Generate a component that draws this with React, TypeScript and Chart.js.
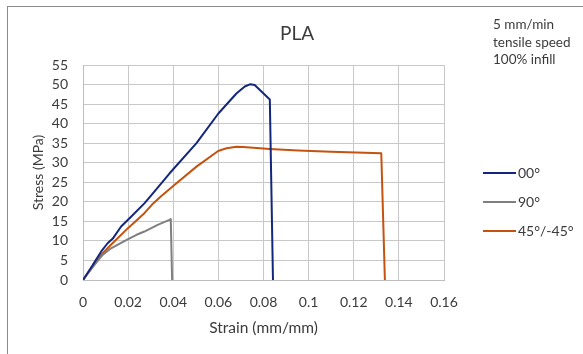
import React, { useEffect, useRef } from "react";
import { Chart, registerables } from "chart.js";

Chart.register(...registerables);

const titleText = "PLA";
const noteLines = ["5 mm/min", "tensile speed", "100% infill"];
const xAxisTitle = "Strain (mm/mm)";
const yAxisTitle = "Stress (MPa)";
const seriesLabels = ["00°", "90°", "45°/-45°"];
const seriesColors = ["#13277c", "#7f7f7f", "#c4530f"];

const strain00 = [0, 0.0043, 0.008, 0.0109, 0.0132, 0.0169, 0.0213, 0.0272, 0.0306, 0.0384, 0.0503, 0.06, 0.068, 0.0717, 0.0742, 0.0761, 0.0784, 0.0828, 0.0842];
const stress00 = [0, 3.8, 7.25, 9.4, 10.6, 13.7, 16.2, 19.6, 21.9, 27.3, 35.0, 42.6, 47.7, 49.5, 50.1, 49.9, 48.6, 46.2, 0];

const strain90 = [0, 0.0021, 0.005, 0.0087, 0.0124, 0.0165, 0.0198, 0.0235, 0.0272, 0.0331, 0.0383, 0.0389, 0.0395];
const stress90 = [0, 1.7, 3.8, 6.4, 8.1, 9.4, 10.4, 11.5, 12.4, 14.1, 15.4, 15.6, 0];

const strain45 = [0, 0.0043, 0.008, 0.0124, 0.0198, 0.0272, 0.0306, 0.0346, 0.0405, 0.0503, 0.0599, 0.0636, 0.068, 0.071, 0.0828, 0.0953, 0.11, 0.1322, 0.1338];
const stress45 = [0, 3.4, 6.4, 9.0, 13.2, 17.1, 19.3, 21.4, 24.3, 29.0, 33.0, 33.7, 34.1, 34.0, 33.5, 33.1, 32.8, 32.4, 0];

const xMin = 0;
const xMax = 0.16;
const xStep = 0.02;
const yMin = 0;
const yMax = 55;
const yStep = 5;

const FONT = "Lato, 'Noto Sans', sans-serif";
const TEXT = "#3b3b3b";

function toPoints(xs: number[], ys: number[]) {
  return xs.map((x, i) => ({ x, y: ys[i] }));
}

export default function App() {
  const ref = useRef<HTMLCanvasElement | null>(null);

  useEffect(() => {
    if (!ref.current) return;
    const textPlugin = {
      id: "texts",
      afterDraw(chart: any) {
        const { ctx, chartArea } = chart;
        ctx.save();
        ctx.fillStyle = TEXT;
        ctx.textBaseline = "middle";
        ctx.textAlign = "center";
        ctx.font = `19px ${FONT}`;
        ctx.fillText(titleText, 297, 34);
        ctx.font = `15.5px ${FONT}`;
        ctx.fillText(xAxisTitle, (chartArea.left + chartArea.right) / 2, 328);
        // legend
        ctx.font = `14px ${FONT}`;
        ctx.textAlign = "left";
        const ly = [173, 202, 231];
        chart.data.datasets.forEach((ds: any, i: number) => {
          ctx.strokeStyle = ds.borderColor;
          ctx.lineWidth = 2;
          ctx.beginPath();
          ctx.moveTo(483, ly[i]);
          ctx.lineTo(516, ly[i]);
          ctx.stroke();
          ctx.fillStyle = TEXT;
          ctx.fillText(ds.label, 518, ly[i]);
        });
        // note
        ctx.font = `13.5px ${FONT}`;
        noteLines.forEach((t, i) => ctx.fillText(t, 493, 25 + i * 17.5));
        // y title
        ctx.font = `14px ${FONT}`;
        ctx.translate(38, (chartArea.top + chartArea.bottom) / 2);
        ctx.rotate(-Math.PI / 2);
        ctx.textAlign = "center";
        ctx.fillText(yAxisTitle, 0, 0);
        ctx.restore();
      },
    };

    const chart = new Chart(ref.current, {
      type: "scatter",
      data: {
        datasets: [
          { label: seriesLabels[0], data: toPoints(strain00, stress00), borderColor: seriesColors[0] },
          { label: seriesLabels[1], data: toPoints(strain90, stress90), borderColor: seriesColors[1] },
          { label: seriesLabels[2], data: toPoints(strain45, stress45), borderColor: seriesColors[2] },
        ].map((d) => ({
          ...d,
          showLine: true,
          borderWidth: 2,
          pointRadius: 0,
          tension: 0,
          borderJoinStyle: "round",
          backgroundColor: d.borderColor,
        })),
      },
      options: {
        responsive: false,
        animation: false,
        layout: { padding: { left: 0, right: 139, top: 65, bottom: 0 } },
        plugins: { legend: { display: false }, title: { display: false }, tooltip: { enabled: false } },
        scales: {
          x: {
            type: "linear",
            min: xMin,
            max: xMax,
            afterFit: (s: any) => { s.height = 74; },
            grid: { color: "#c8c8c8", lineWidth: 1, drawTicks: false },
            border: { color: "#bdbdbd" },
            ticks: {
              stepSize: xStep,
              autoSkip: false,
              padding: 14,
              color: TEXT,
              font: { family: FONT, size: 14 },
              callback: (v: any) => String(Math.round(Number(v) * 100) / 100),
            },
          },
          y: {
            type: "linear",
            min: yMin,
            max: yMax,
            afterFit: (s: any) => { s.width = 83; },
            grid: { color: "#c8c8c8", lineWidth: 1, drawTicks: false },
            border: { color: "#bdbdbd" },
            ticks: {
              stepSize: yStep,
              autoSkip: false,
              padding: 15,
              color: TEXT,
              font: { family: FONT, size: 14 },
            },
          },
        },
      },
      plugins: [textPlugin],
    } as any);
    return () => chart.destroy();
  }, []);

  return (
    <div style={{ position: "absolute", left: 0, top: 0, width: 583, height: 354, overflow: "hidden", background: "#fff" }}>
      <div style={{ position: "absolute", left: 7, top: 6, width: 620, height: 400, border: "1px solid #8c8c8c" }} />
      <canvas ref={ref} width={583} height={354} style={{ position: "absolute", left: 0, top: 0 }} />
    </div>
  );
}
